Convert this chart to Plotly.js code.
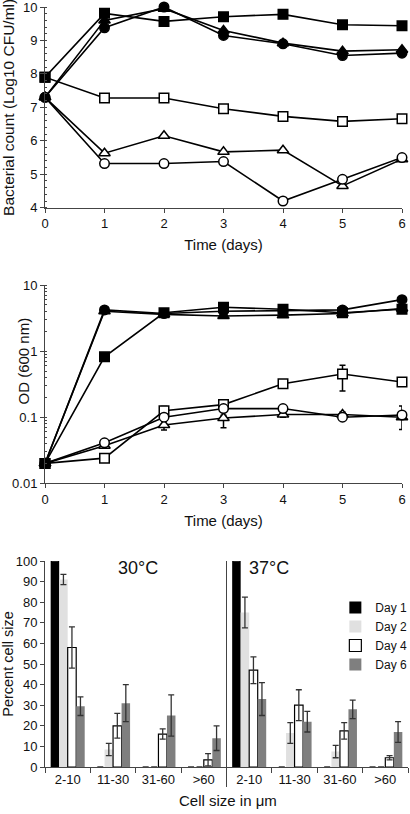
<!DOCTYPE html>
<html>
<head>
<meta charset="utf-8">
<script src="https://cdn.plot.ly/plotly-3.0.1.min.js"></script>
<style>html,body{margin:0;padding:0;background:#fff}#chart{width:410px;height:814px}</style>
</head>
<body>
<div id="chart"></div>
<script>
// ---------- data ----------
const days = [0, 1, 2, 3, 4, 5, 6];

// Panel A: bacterial count (log10 CFU/ml)
const cfuFilledSquare   = [7.9, 9.81, 9.57, 9.71, 9.78, 9.47, 9.44];
const cfuFilledTriangle = [7.3, 9.6, 9.95, 9.3, 8.92, 8.68, 8.72];
const cfuFilledCircle   = [7.3, 9.38, 10.0, 9.15, 8.9, 8.55, 8.62];
const cfuOpenSquare     = [7.9, 7.28, 7.28, 6.96, 6.73, 6.58, 6.66];
const cfuOpenTriangle   = [7.3, 5.63, 6.15, 5.67, 5.72, 4.65, 5.45];
const cfuOpenCircle     = [7.3, 5.32, 5.32, 5.38, 4.2, 4.85, 5.5];

// Panel B: OD (600 nm)
const odFilledCircle   = [0.02, 4.2, 3.7, 4.0, 4.1, 4.2, 6.0];
const odFilledSquare   = [0.02, 0.82, 3.8, 4.6, 4.3, 3.8, 4.3];
const odFilledTriangle = [0.02, 4.0, 3.6, 3.4, 3.5, 3.7, 4.4];
const odOpenSquare     = [0.02, 0.024, 0.125, 0.155, 0.32, 0.45, 0.34];
const odOpenCircle     = [0.02, 0.041, 0.1, 0.135, 0.135, 0.1, 0.108];
const odOpenTriangle   = [0.02, 0.037, 0.076, 0.097, 0.11, 0.11, 0.1];
const odOpenSquareErrPlus    = [0, 0, 0.02, 0.02, 0.03, 0.16, 0.03];
const odOpenSquareErrMinus   = [0, 0, 0.02, 0.02, 0.03, 0.2, 0.03];
const odOpenTriangleErrPlus  = [0, 0, 0.01, 0.01, 0.01, 0.01, 0.01];
const odOpenTriangleErrMinus = [0, 0, 0.012, 0.028, 0.01, 0.01, 0.035];
const odOpenCircleErrPlus    = [0, 0, 0, 0, 0, 0, 0.04];

// Panel C: percent cell size
const sizeClasses = ["2-10", "11-30", "31-60", ">60"];
const dayLabels = ["Day 1", "Day 2", "Day 4", "Day 6"];
const pct30 = {
  d1: [100, 0, 0, 0], d2: [91, 8.5, 0, 0], d4: [58, 20, 16, 3.5], d6: [29.5, 31, 25, 14]
};
const err30 = {
  d1: [null, null, null, null], d2: [2.5, 3, null, null], d4: [10, 6, 2.5, 3], d6: [4.5, 9, 10, 6]
};
const pct37 = {
  d1: [100, 0, 0, 0], d2: [75, 16.5, 7.5, 0], d4: [47, 30, 17.5, 4.5], d6: [33, 22, 28, 17]
};
const err37 = {
  d1: [null, null, null, null], d2: [7.5, 5, 3, null], d4: [6.5, 7.5, 4, 1], d6: [8, 5, 4.5, 5]
};
const tempLabels = ["30°C", "37°C"];

// ---------- styles ----------
const FONT = "Liberation Sans, Arial, sans-serif";
const AX = "#444";
function lineTrace(x, y, symbol, filled, xa, ya, err) {
  const t = {
    x: x, y: y, xaxis: xa, yaxis: ya, type: "scatter", mode: "lines+markers",
    showlegend: false, cliponaxis: false,
    line: { color: "#000", width: 1.6 },
    marker: { symbol: symbol, size: symbol === "triangle-up" ? 10 : 9.5,
      color: filled ? "#000" : "#fff", line: { color: "#000", width: 1.5 } }
  };
  if (err) t.error_y = Object.assign({ type: "data", color: "#000", thickness: 1.5, width: 3 }, err);
  return t;
}

const traces = [
  lineTrace(days, cfuOpenSquare, "square", false, "x", "y"),
  lineTrace(days, cfuOpenTriangle, "triangle-up", false, "x", "y"),
  lineTrace(days, cfuOpenCircle, "circle", false, "x", "y"),
  lineTrace(days, cfuFilledSquare, "square", true, "x", "y"),
  lineTrace(days, cfuFilledTriangle, "triangle-up", true, "x", "y"),
  lineTrace(days, cfuFilledCircle, "circle", true, "x", "y"),

  lineTrace(days, odOpenSquare, "square", false, "x2", "y2",
    { symmetric: false, array: odOpenSquareErrPlus, arrayminus: odOpenSquareErrMinus }),
  lineTrace(days, odOpenTriangle, "triangle-up", false, "x2", "y2",
    { symmetric: false, array: odOpenTriangleErrPlus, arrayminus: odOpenTriangleErrMinus }),
  lineTrace(days, odOpenCircle, "circle", false, "x2", "y2",
    { symmetric: false, array: odOpenCircleErrPlus, arrayminus: odOpenCircleErrPlus.map(() => 0) }),
  lineTrace(days, odFilledTriangle, "triangle-up", true, "x2", "y2"),
  lineTrace(days, odFilledSquare, "square", true, "x2", "y2"),
  lineTrace(days, odFilledCircle, "circle", true, "x2", "y2")
];

const barColors = { d1: "#000000", d2: "#e0e0e0", d4: "#ffffff", d6: "#7f7f7f" };
const barLineW = { d1: 0, d2: 0, d4: 1.2, d6: 0 };
const keys = ["d1", "d2", "d4", "d6"];
[[pct30, err30, "x3"], [pct37, err37, "x4"]].forEach(([pct, err, xa], half) => {
  keys.forEach((k, i) => {
    traces.push({
      type: "bar", x: sizeClasses, y: pct[k], xaxis: xa, yaxis: "y3",
      name: dayLabels[i], legendgroup: k, showlegend: half === 0,
      marker: { color: barColors[k], line: { color: "#000", width: barLineW[k] } },
      error_y: { type: "data", array: err[k], color: "#333", thickness: 1.3, width: 3 }
    });
  });
});

// ---------- layout ----------
const H = 814, mt = 7, mb = 47, plotH = H - mt - mb;
const py = px => (H - mb - px) / plotH;   // pixel-from-top -> paper y
const pxX = px => (px - 45) / 363;        // pixel-from-left -> paper x

const baseX = {
  range: [0, 6], dtick: 1, ticks: "outside", ticklen: 4, tickwidth: 1, tickcolor: AX,
  showline: true, linecolor: AX, linewidth: 1, zeroline: false, showgrid: false,
  tickfont: { size: 13, color: "#111" }, domain: [0, 357 / 363], automargin: false,
  title: { text: "Time (days)", font: { size: 15, color: "#111" }, standoff: 9 }
};

const layout = {
  width: 410, height: 814,
  margin: { l: 45, r: 2, t: mt, b: mb, autoexpand: false },
  paper_bgcolor: "#fff", plot_bgcolor: "#fff",
  font: { family: FONT, color: "#111" },
  bargap: 0.25, bargroupgap: 0, barmode: "group",
  xaxis: Object.assign({}, baseX, { anchor: "y" }),
  yaxis: {
    domain: [py(207.7), 1], range: [4, 10], dtick: 1, anchor: "x", ticklabeloverflow: "allow",
    ticks: "outside", ticklen: 4, tickcolor: AX, showline: true, linecolor: AX, linewidth: 1,
    zeroline: false, showgrid: false, tickfont: { size: 13, color: "#111" }, automargin: false,
    minor: { dtick: 0.2, ticks: "inside", ticklen: 2, tickcolor: AX, showgrid: false },
    title: { text: "Bacterial count (Log10 CFU/ml)", font: { size: 15.5, color: "#111" }, standoff: 5 }
  },
  xaxis2: Object.assign({}, baseX, { anchor: "y2" }),
  yaxis2: {
    domain: [py(483.3), py(285)], type: "log", range: [-2, 1], dtick: 1, anchor: "x2",
    ticklabeloverflow: "allow", automargin: false,
    ticks: "outside", ticklen: 4, tickcolor: AX, showline: true, linecolor: AX, linewidth: 1,
    zeroline: false, showgrid: false, tickfont: { size: 13, color: "#111" },
    minor: { ticks: "inside", ticklen: 2, tickcolor: AX, showgrid: false }
  },
  xaxis3: {
    domain: [0, 0.5], anchor: "y3", type: "category", tickson: "boundaries", tickangle: 0,
    ticks: "outside", ticklen: 5, tickcolor: AX, showline: true, linecolor: AX, linewidth: 1,
    showgrid: false, tickfont: { size: 13, color: "#111" }, automargin: false
  },
  xaxis4: {
    domain: [0.5, 1], anchor: "y3", type: "category", tickson: "boundaries", tickangle: 0,
    ticks: "outside", ticklen: 5, tickcolor: AX, showline: true, linecolor: AX, linewidth: 1,
    showgrid: false, tickfont: { size: 13, color: "#111" }, automargin: false
  },
  yaxis3: {
    domain: [0, py(561)], range: [0, 100], dtick: 10, anchor: "x3", ticklabeloverflow: "allow",
    ticks: "outside", ticklen: 4, tickcolor: AX, showline: true, linecolor: AX, linewidth: 1,
    zeroline: false, showgrid: false, tickfont: { size: 13, color: "#111" }, automargin: false,
    title: { text: "Percent cell size", font: { size: 14.5, color: "#111" }, standoff: 6 }
  },
  legend: {
    x: 1.012, y: py(593), xanchor: "right", yanchor: "top",
    font: { size: 12, color: "#111" }, bgcolor: "rgba(0,0,0,0)", tracegroupgap: 0,
    itemwidth: 30, traceorder: "normal"
  },
  shapes: [{
    type: "line", xref: "paper", yref: "paper", x0: 0.5, x1: 0.5,
    y0: py(787), y1: py(561), line: { color: AX, width: 1 }
  }],
  annotations: [
    { xref: "paper", yref: "paper", x: pxX(12), y: py(361), text: "OD (600 nm)", textangle: -90,
      showarrow: false, font: { size: 15, color: "#111" } },
    { xref: "paper", yref: "paper", x: pxX(116), y: py(580), text: tempLabels[0],
      showarrow: false, font: { size: 18, color: "#111" } },
    { xref: "paper", yref: "paper", x: pxX(291), y: py(580), text: tempLabels[1],
      showarrow: false, font: { size: 18, color: "#111" } },
    { xref: "paper", yref: "paper", x: pxX(228), y: py(811), text: "Cell size in μm",
      showarrow: false, font: { size: 15, color: "#111" } }
  ]
};

Plotly.newPlot("chart", traces, layout, { staticPlot: true, displayModeBar: false });
</script>
</body>
</html>
